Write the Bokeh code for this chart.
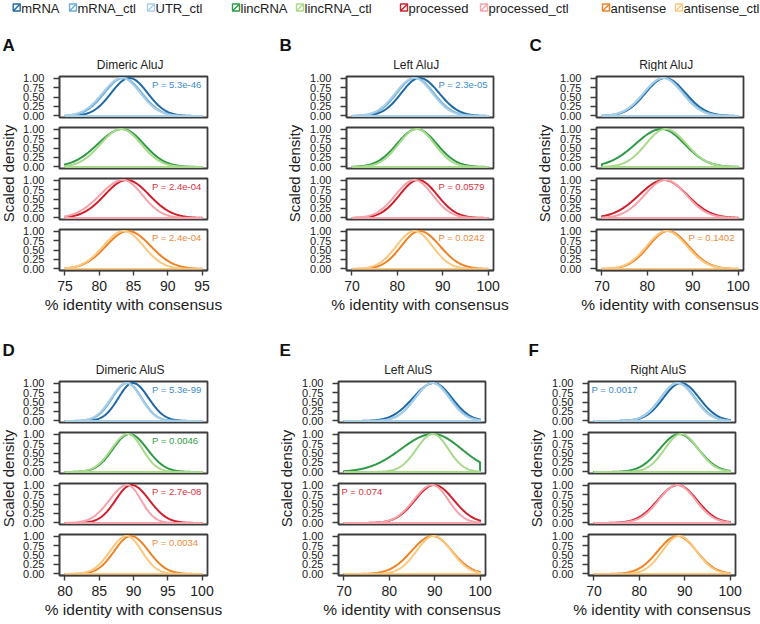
import numpy as np
from bokeh.plotting import figure
from bokeh.layouts import row, column
from bokeh.models import Range1d, FixedTicker
from bokeh.core.properties import value
from bokeh.embed import file_html
from bokeh.resources import INLINE

FONT = "Liberation Sans"

# ---------------- data ----------------
PANEL_LETTERS = ["A", "B", "C", "D", "E", "F"]
PANEL_TITLES = ["Dimeric AluJ", "Left AluJ", "Right AluJ",
                "Dimeric AluS", "Left AluS", "Right AluS"]
X_LO = [75, 70, 70, 80, 70, 70]
X_HI = [95, 100, 100, 100, 100, 100]
X_TICKS = [[75, 80, 85, 90, 95], [70, 80, 90, 100], [70, 80, 90, 100],
           [80, 85, 90, 95, 100], [70, 80, 90, 100], [70, 80, 90, 100]]
Y_TICKS = [0, 0.25, 0.5, 0.75, 1.0]
Y_TICK_LABELS = ["0.00", "0.25", "0.50", "0.75", "1.00"]
X_LABEL = "% identity with consensus"
Y_LABEL = "Scaled density"

SERIES = ["mRNA", "mRNA_ctl", "UTR_ctl", "lincRNA", "lincRNA_ctl",
          "processed", "processed_ctl", "antisense", "antisense_ctl"]
COLORS = ["#1f68a6", "#6aaed6", "#a9cfe7", "#2e9a47", "#a9d98b",
          "#d0202e", "#f4a3ab", "#ee8326", "#fcc87f"]
GROUPS = [[0, 1, 2], [3, 4], [5, 6], [7, 8]]
P_COLORS = ["#3d8bcb", "#2e9e48", "#e0303c", "#f08a3c"]

# mode / left spread / right spread of each scaled density curve, per panel A..F
MODE = {
    "mRNA":          [84.4, 84.9, 83.9, 89.9, 89.8, 89.2],
    "mRNA_ctl":      [83.5, 83.9, 83.6, 89.1, 89.6, 88.5],
    "UTR_ctl":       [83.3, 83.7, 83.5, 89.0, 89.5, 88.4],
    "lincRNA":       [83.4, 84.3, 83.2, 89.4, 89.6, 88.8],
    "lincRNA_ctl":   [83.2, 84.3, 84.0, 89.2, 89.6, 89.2],
    "processed":     [84.0, 84.6, 83.7, 89.7, 89.9, 88.5],
    "processed_ctl": [83.5, 83.8, 84.0, 89.1, 89.5, 88.4],
    "antisense":     [84.2, 84.9, 84.6, 89.6, 89.5, 88.4],
    "antisense_ctl": [83.6, 83.8, 84.2, 89.0, 89.8, 88.8],
}
SD_LEFT = {
    "mRNA":          [2.65, 4.0, 4.3, 2.1, 4.6, 3.9],
    "mRNA_ctl":      [2.75, 4.0, 4.3, 2.2, 3.9, 3.8],
    "UTR_ctl":       [2.8, 4.1, 4.3, 2.25, 3.8, 3.7],
    "lincRNA":       [3.6, 4.4, 5.8, 2.4, 7.0, 4.3],
    "lincRNA_ctl":   [3.0, 4.0, 4.3, 2.4, 3.6, 3.6],
    "processed":     [3.2, 4.1, 5.5, 2.3, 4.2, 4.4],
    "processed_ctl": [3.4, 4.2, 4.6, 2.6, 4.1, 4.1],
    "antisense":     [3.2, 4.0, 4.3, 2.4, 4.6, 4.3],
    "antisense_ctl": [3.0, 4.0, 4.3, 2.4, 3.8, 3.7],
}
SD_RIGHT = {
    "mRNA":          [2.65, 4.3, 4.5, 2.3, 4.0, 4.0],
    "mRNA_ctl":      [2.7, 4.1, 4.3, 2.1, 3.8, 3.8],
    "UTR_ctl":       [2.7, 4.0, 4.2, 2.1, 3.7, 3.7],
    "lincRNA":       [3.1, 4.4, 5.0, 2.6, 6.3, 4.2],
    "lincRNA_ctl":   [2.9, 3.9, 4.6, 2.1, 3.4, 3.8],
    "processed":     [3.3, 4.2, 5.1, 2.6, 4.3, 4.2],
    "processed_ctl": [2.8, 4.0, 4.6, 2.0, 3.5, 4.0],
    "antisense":     [3.3, 4.5, 4.5, 2.6, 4.3, 4.2],
    "antisense_ctl": [2.85, 3.9, 4.5, 2.2, 3.9, 3.8],
}
P_TEXT = [
    ["P = 5.3e-46", None, "P = 2.4e-04", "P = 2.4e-04"],
    ["P = 2.3e-05", None, "P = 0.0579", "P = 0.0242"],
    [None, None, None, "P = 0.1402"],
    ["P = 5.3e-99", "P = 0.0046", "P = 2.7e-08", "P = 0.0034"],
    [None, None, "P = 0.074", None],
    ["P = 0.0017", None, None, None],
]
P_SIDE = ["right", "right", "right", "right", "left", "left"]

# ---------------- layout / style constants ----------------
BOX = "#3c3c3c"
TXT = "#222222"
FRAME_W, FRAME_H = 148, 41
SUB_TOP, SUB_BOT, AXIS_BOT = 5, 5, 47
# per panel: ylabel width, border left, border right, letter x, ylabel centre x
PANEL_GEOM = [(20, 39, 65, 2, 7.5), (35, 38, 29, 7, 21.5), (35, 38, 17, 7, 21.5),
              (20, 39, 65, 2, 7.5), (27, 38, 37, 7, 13.5), (27, 38, 25, 6, 13.5)]
HEADER_H = [53, 59]
LETTER_Y = [26, 26]
TITLE_Y = [6.8, 6.8]
YLAB_FROM_TOP = 102
LEGEND_X = [12.7, 69, 147, 232, 296, 400, 480, 602, 675]


def density_path(lo, hi, mode, sdl, sdr, n=200):
    x = np.linspace(lo, hi, n)
    s = np.where(x < mode, sdl, sdr)
    y = np.exp(-0.5 * ((x - mode) / s) ** 2)
    xs = np.concatenate([[lo], x, [hi, lo]])
    ys = np.concatenate([[0.0], y, [0.0, 0.0]])
    return xs, ys


def make_sub(k, g, bl, br, bottom):
    lo, hi = X_LO[k], X_HI[k]
    pad = 0.04 * (hi - lo)
    bb = AXIS_BOT if bottom else SUB_BOT
    p = figure(width=bl + FRAME_W + br, height=SUB_TOP + FRAME_H + bb,
               x_range=Range1d(lo - pad, hi + pad), y_range=Range1d(-0.04, 1.04),
               output_backend="svg", toolbar_location=None, title=None,
               x_axis_location="below" if bottom else None,
               min_border_left=bl, min_border_right=br,
               min_border_top=SUB_TOP, min_border_bottom=bb)
    p.grid.visible = False
    p.outline_line_color = BOX
    p.outline_line_width = 1.8
    p.background_fill_color = "white"
    p.border_fill_color = "white"

    ya = p.yaxis[0]
    ya.ticker = FixedTicker(ticks=Y_TICKS)
    ya.major_label_overrides = {t: l for t, l in zip(Y_TICKS, Y_TICK_LABELS)}
    ya.major_tick_out = 6
    ya.major_tick_in = 0
    ya.minor_tick_out = 0
    ya.minor_tick_in = 0
    ya.major_label_standoff = 9
    ya.major_label_text_font = FONT
    ya.major_label_text_font_size = "11px"
    ya.major_label_text_color = TXT
    ya.axis_line_color = BOX
    ya.axis_line_width = 1.4
    ya.major_tick_line_color = BOX
    ya.major_tick_line_width = 1.4

    if bottom:
        xa = p.xaxis[0]
        xa.ticker = FixedTicker(ticks=X_TICKS[k])
        xa.major_tick_out = 5
        xa.major_tick_in = 0
        xa.minor_tick_out = 0
        xa.minor_tick_in = 0
        xa.major_label_standoff = 5
        xa.major_label_text_font = FONT
        xa.major_label_text_font_size = "14px"
        xa.major_label_text_color = TXT
        xa.axis_line_color = BOX
        xa.axis_line_width = 1.4
        xa.major_tick_line_color = BOX
        xa.major_tick_line_width = 1.4
        xa.axis_label = X_LABEL
        xa.axis_label_text_font = FONT
        xa.axis_label_text_font_size = "15.5px"
        xa.axis_label_text_font_style = "normal"
        xa.axis_label_text_color = TXT
        xa.axis_label_standoff = 2

    for si in GROUPS[g]:
        name = SERIES[si]
        xs, ys = density_path(lo, hi, MODE[name][k], SD_LEFT[name][k], SD_RIGHT[name][k])
        p.line(xs, ys, line_color=COLORS[si], line_width=2, line_join="round")

    txt = P_TEXT[k][g]
    if txt:
        frac = 0.625 if P_SIDE[k] == "right" else 0.02
        xp = (lo - pad) + frac * (hi - lo + 2 * pad)
        p.text(x=[xp], y=[0.985], text=[txt], text_font=value(FONT),
               text_font_size="9.5px", text_color=P_COLORS[g],
               text_align="left", text_baseline="top")
    return p


def blank(w, h, xr, yr):
    p = figure(width=w, height=h, x_range=xr, y_range=yr,
               output_backend="svg", toolbar_location=None, title=None,
               x_axis_location=None, y_axis_location=None,
               min_border_left=0, min_border_right=0, min_border_top=0, min_border_bottom=0)
    p.grid.visible = False
    p.outline_line_color = None
    p.background_fill_color = "white"
    p.border_fill_color = "white"
    return p


def make_panel(k, r):
    yw, bl, br, lx, ylx = PANEL_GEOM[k]
    subw = bl + FRAME_W + br
    pw = yw + subw
    hh = HEADER_H[r]
    head = blank(pw, hh, Range1d(0, pw), Range1d(0, hh))
    head.text(x=[lx], y=[LETTER_Y[r]], text=[PANEL_LETTERS[k]], text_font=value(FONT),
              text_font_size="17px", text_font_style="bold", text_color="#111111",
              text_align="left", text_baseline="middle")
    head.text(x=[yw + bl + FRAME_W / 2 - 3], y=[TITLE_Y[r]], text=[PANEL_TITLES[k]],
              text_font=value(FONT), text_font_size="12px", text_color=TXT,
              text_align="center", text_baseline="middle")
    subs = [make_sub(k, g, bl, br, g == 3) for g in range(4)]
    stack_h = 3 * (SUB_TOP + FRAME_H + SUB_BOT) + SUB_TOP + FRAME_H + AXIS_BOT
    yl = blank(yw, stack_h, Range1d(0, yw), Range1d(0, stack_h))
    yl.text(x=[ylx], y=[stack_h - YLAB_FROM_TOP], text=[Y_LABEL],
            text_font=value(FONT), text_font_size="15px", text_color=TXT,
            angle=np.pi / 2, text_align="center", text_baseline="middle")
    return column(head, row(yl, column(*subs)))


# legend strip
leg = blank(760, 18, Range1d(0, 760), Range1d(18, 0))
lx = np.array(LEGEND_X, dtype=float)
leg.quad(left=lx, right=lx + 7, top=[3.5] * len(lx), bottom=[10.5] * len(lx),
         fill_color="white", line_color=COLORS, line_width=1.4)
leg.segment(x0=lx, y0=[10.5] * len(lx), x1=lx + 7, y1=[3.5] * len(lx),
            line_color=COLORS, line_width=1.4)
leg.text(x=lx + 8, y=[7.5] * len(lx), text=SERIES, text_font=value(FONT),
         text_font_size="13px", text_color=TXT, text_align="left",
         text_baseline="middle")

row1 = row(*[make_panel(k, 0) for k in range(3)])
row2 = row(*[make_panel(k, 1) for k in range(3, 6)])
page = column(leg, row1, row2)

open("out.html", "w").write(file_html(page, INLINE))
